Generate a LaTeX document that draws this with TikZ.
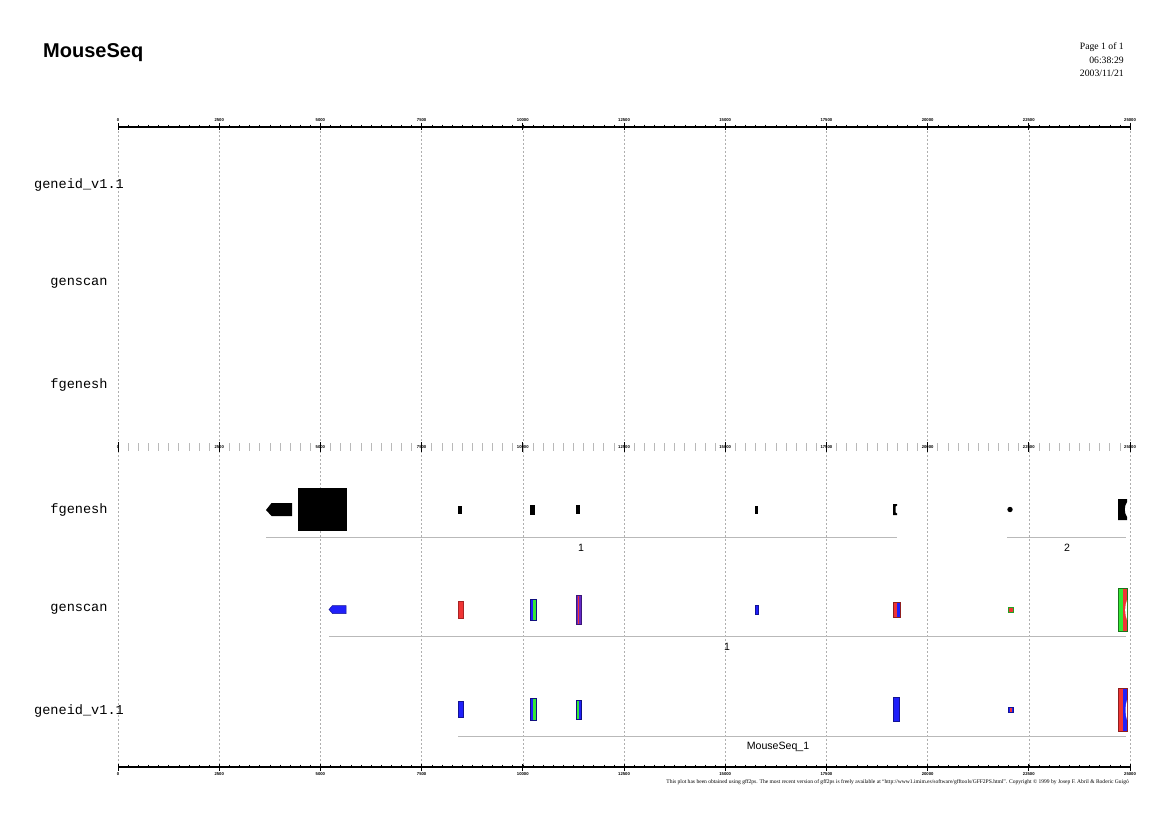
\documentclass[tikz,border=0pt]{standalone}
\usepackage{fontspec}
\setmainfont{Liberation Serif}
\setmonofont{Liberation Mono}
\newfontfamily\hv{Liberation Sans}
\definecolor{gb}{RGB}{32,32,250}
\definecolor{gr}{RGB}{240,52,52}
\definecolor{gg}{RGB}{52,232,52}
\definecolor{gp}{RGB}{100,40,200}
\definecolor{gline}{RGB}{185,185,185}
\definecolor{gridc}{RGB}{175,175,175}
\tikzset{
  tracklabel/.style={font=\ttfamily\fontsize{13.6}{15}\selectfont, inner sep=0pt},
  rulerlab/.style={font=\hv\bfseries\fontsize{4.2}{5}\selectfont, inner sep=0pt},
  genelab/.style={font=\hv\fontsize{10.6}{12}\selectfont, inner sep=0pt},
  geneline/.style={draw=gline, line width=0.9pt},
  gridline/.style={draw=gridc, line width=0.5pt, dash pattern=on 2pt off 2pt},
  exon/.style={line width=0.5pt},
}
\newcommand\rulerpos{0/0,1/2500,2/5000,3/7500,4/10000,5/12500,6/15000,7/17500,8/20000,9/22500,10/25000}
\begin{document}
\begin{tikzpicture}[x=1pt,y=-1pt]
\useasboundingbox (0,0) rectangle (1169,826);
\fill[white] (0,0) rectangle (1169,826);
% grid
\foreach \i in {0,...,10}
  \draw[gridline] ({118+\i*101.2},127) -- ({118+\i*101.2},768);
% header
\node[font=\hv\bfseries\fontsize{20}{24}\selectfont, anchor=west, inner sep=0pt] (title) at (43,53) {MouseSeq};
\node[anchor=east, align=right, font=\fontsize{9.7}{13.5}\selectfont, inner sep=0pt] (pageinfo) at (1124,60) {Page 1 of 1\\06:38:29\\2003/11/21};
% top ruler
\draw[line width=1.2pt] (118,127) -- (1130,127);
\foreach \t in {0,...,100}
  \draw[line width=0.4pt] ({118+\t*10.12},124.6) -- ({118+\t*10.12},127);
\foreach \i/\v in \rulerpos {
  \draw[line width=0.9pt] ({118+\i*101.2},123) -- ({118+\i*101.2},130);
  \node[rulerlab] (tl\i) at ({118+\i*101.2},120) {\v};
}
% middle ruler
\foreach \t in {0,...,100}
  \draw[gray!55, line width=0.6pt] ({118+\t*10.12},443) -- ({118+\t*10.12},451);
\foreach \i/\v in \rulerpos {
  \node[rulerlab] (ml\i) at ({118+\i*101.2},447) {\v};
  \draw[line width=0.8pt] ({118+\i*101.2},442) -- ({118+\i*101.2},452);
}
% bottom ruler
\draw[line width=1.2pt] (118,767) -- (1130,767);
\foreach \t in {0,...,100}
  \draw[line width=0.4pt] ({118+\t*10.12},764.6) -- ({118+\t*10.12},767);
\foreach \i/\v in \rulerpos {
  \draw[line width=0.9pt] ({118+\i*101.2},764) -- ({118+\i*101.2},771);
  \node[rulerlab] (bl\i) at ({118+\i*101.2},774) {\v};
}
\node[anchor=east, font=\fontsize{5.55}{6}\selectfont, inner sep=0pt] (footer) at (1129,782.5) {This plot has been obtained using gff2ps. The most recent version of gff2ps is freely available at ``http://www1.imim.es/software/gfftools/GFF2PS.html''. Copyright \textcopyright\ 1999 by Josep F. Abril \& Roderic Guig\'o};
% track labels
\node[tracklabel] (u1) at (79,185) {geneid\_v1.1};
\node[tracklabel] (u2) at (79,283) {genscan};
\node[tracklabel] (u3) at (79,385) {fgenesh};
\node[tracklabel] (d1) at (79,510) {fgenesh};
\node[tracklabel] (d2) at (79,609) {genscan};
\node[tracklabel] (d3) at (79,711) {geneid\_v1.1};
% fgenesh features
\fill (266,510) -- (271.5,503) -- (292,503) -- (292,516) -- (271.5,516) -- cycle;
\fill (298,488) rectangle (347,531);
\fill (458,506) rectangle (462,514);
\fill (530,505) rectangle (535,515);
\fill (576,505) rectangle (580,514);
\fill (755,506) rectangle (758,514);
\fill (893,504) -- (897,504) -- (897,505.5) -- (895.5,506.5) -- (895.5,512.5) -- (897,513.5) -- (897,515) -- (893,515) -- cycle;
\fill (1010,509.5) circle (2.7);
\fill (1118,499) -- (1127,499) -- (1127,502) .. controls (1124,506) and (1124,513) .. (1127,517) -- (1127,520) -- (1118,520) -- cycle;
\coordinate (fa) at (266,537); \coordinate (fb) at (897,537);
\coordinate (fc) at (1007,537); \coordinate (fd) at (1126,537);
\draw[geneline] (fa) -- (fb);
\draw[geneline] (fc) -- (fd);
\node[genelab] (fg1) at (581,548) {1};
\node[genelab] (fg2) at (1067,548) {2};
% genscan features
\filldraw[exon, fill=gb, draw=gb!60!black] (329,609.5) -- (332.5,605.5) -- (346,605.5) -- (346,613.5) -- (332.5,613.5) -- cycle;
\filldraw[exon, fill=gr, draw=gr!70!black] (458,601) rectangle (463,618);
\fill[gb] (530,599) rectangle (533,620); \fill[gg] (533,599) rectangle (536,620);
\draw[exon, draw=gb!50!black] (530,599) rectangle (536,620);
\fill[gp] (576,595) rectangle (581,624); \fill[gr] (578,595) rectangle (579.3,624);
\draw[exon, draw=gp!60!black] (576,595) rectangle (581,624);
\filldraw[exon, fill=gb, draw=gb!60!black] (755,605) rectangle (758,614);
\fill[gr] (893,602) rectangle (897,617); \fill[gb] (897,602) rectangle (900,617);
\draw[exon, draw=gr!60!black] (893,602) rectangle (900,617);
\filldraw[exon, fill=gr, draw=gg!70!black] (1008,607) rectangle (1013,612);
\fill[gg] (1118,588) rectangle (1122.5,631); \fill[gr] (1122.5,588) rectangle (1127,631);
\draw[exon, draw=gg!50!black] (1118,588) rectangle (1127,631);
\fill[white] (1127,600) .. controls (1124.5,606) and (1124.5,614) .. (1127,620) -- cycle;
\coordinate (sa) at (329,636); \coordinate (sb) at (1126,636);
\draw[geneline] (sa) -- (sb);
\node[genelab] (sg1) at (727,647) {1};
% geneid features
\filldraw[exon, fill=gb, draw=gb!60!black] (458,701) rectangle (463,717);
\fill[gb] (530,698) rectangle (533,720); \fill[gg] (533,698) rectangle (536,720);
\draw[exon, draw=gb!50!black] (530,698) rectangle (536,720);
\fill[gg] (576,700) rectangle (578.5,719); \fill[gb] (578.5,700) rectangle (581,719);
\draw[exon, draw=gb!50!black] (576,700) rectangle (581,719);
\filldraw[exon, fill=gb, draw=gb!60!black] (893,697) rectangle (899,721);
\fill[gb] (1008,707) rectangle (1013,712); \fill[gr] (1010,707) rectangle (1011.5,712);
\draw[exon, draw=gb!60!black] (1008,707) rectangle (1013,712);
\fill[gr] (1118,688) rectangle (1123,731); \fill[gb] (1123,688) rectangle (1127,731);
\draw[exon, draw=gr!60!black] (1118,688) rectangle (1127,731);
\fill[white] (1127,700) .. controls (1125,706) and (1125,714) .. (1127,720) -- cycle;
\coordinate (ea) at (458,736); \coordinate (eb) at (1126,736);
\draw[geneline] (ea) -- (eb);
\node[genelab] (eg1) at (778,747) {MouseSeq\_1};
\end{tikzpicture}
\end{document}
